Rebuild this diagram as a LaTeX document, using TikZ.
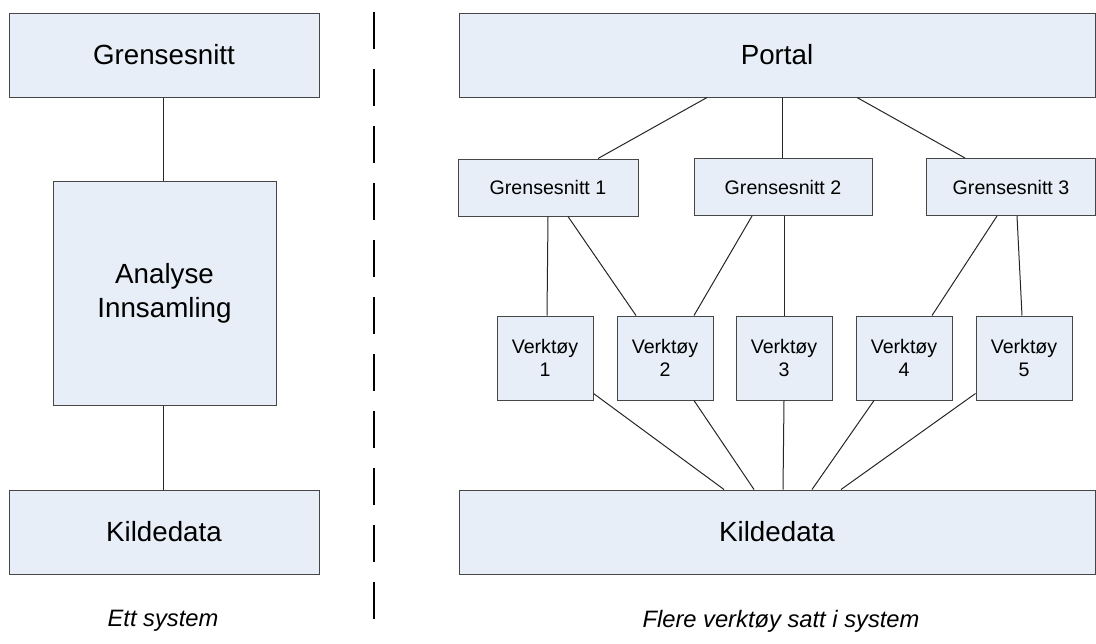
\documentclass[tikz,border=0pt]{standalone}
\usepackage{fontspec}
\setmainfont{Liberation Sans}
\usetikzlibrary{calc}
\definecolor{boxfill}{RGB}{232,238,247}
\definecolor{boxline}{RGB}{70,70,70}
\tikzset{
  box/.style={draw=boxline, fill=boxfill, line width=0.75pt, inner sep=0pt, align=center},
  bigbox/.style={box, font=\fontsize{20.8}{25.5}\selectfont},
  smallbox/.style={box, font=\fontsize{14.7}{16.8}\selectfont},
  caption/.style={font=\fontsize{17.8}{21}\selectfont\itshape, inner sep=0pt},
  conn/.style={draw=black!85, line width=0.75pt},
  divider/.style={line width=1.5pt, dash pattern=on 27.75pt off 15pt}
}
\begin{document}
\begin{tikzpicture}[x=0.75pt,y=-0.75pt]
\useasboundingbox (0,0) rectangle (1096,643);
% left column
\node[bigbox, minimum width=232.5pt, minimum height=63pt] (lg) at (164,55) {Grensesnitt};
\node[bigbox, minimum width=167.25pt, minimum height=168pt] (la) at (164.5,293) {Analyse\\Innsamling};
\node[bigbox, minimum width=232.5pt, minimum height=63pt] (lk) at (164,532) {Kildedata};
\node[caption] (lc) at (163,621) {Ett system};
\draw[conn] ($(lg.south)+(-1,0)$) -- ($(la.north)+(-1.5,0)$);
\draw[conn] ($(la.south)+(-1.5,0)$) -- ($(lk.north)+(-1,0)$);
% divider
\coordinate (dtop) at (374,12);
\coordinate (dbot) at (374,620);
\draw[divider] (dtop) -- (dbot);
% right column
\node[bigbox, minimum width=477pt, minimum height=63pt] (portal) at (777,55) {Portal};
\node[smallbox, minimum width=135pt, minimum height=42.75pt] (g1) at (548,187.5) {Grensesnitt 1};
\node[smallbox, minimum width=133.5pt, minimum height=42.75pt] (g2) at (783,187) {Grensesnitt 2};
\node[smallbox, minimum width=126.75pt, minimum height=42.75pt] (g3) at (1011,187) {Grensesnitt 3};
\foreach \i/\cx in {1/545,2/665,3/784,4/904,5/1024}{
  \node[smallbox, minimum width=72pt, minimum height=63pt] (v\i) at (\cx,358) {Verktøy\\\i};
}
\node[bigbox, minimum width=477pt, minimum height=63pt] (rk) at (777,532) {Kildedata};
\node[caption] (rc) at (781,621) {Flere verktøy satt i system};
% portal to interfaces
\draw[conn] ($(portal.south)+(-70,0)$) -- ($(g1.north)+(50,0)$);
\draw[conn] ($(portal.south)+(5,0)$) -- ($(g2.north)+(-1,0)$);
\draw[conn] ($(portal.south)+(80,0)$) -- ($(g3.north)+(-46,0)$);
% interfaces to tools
\draw[conn] (g1.south) -- ($(v1.north)+(2,0)$);
\draw[conn] ($(g1.south)+(20,0)$) -- ($(v2.north)+(-29,0)$);
\draw[conn] ($(g2.south)+(-31,0)$) -- ($(v2.north)+(29,0)$);
\draw[conn] ($(g2.south)+(1,0)$) -- ($(v3.north)+(0,0)$);
\draw[conn] ($(g3.south)+(-14,0)$) -- ($(v4.north)+(28,0)$);
\draw[conn] ($(g3.south)+(6,0)$) -- ($(v5.north)+(-2,0)$);
% tools to source data
\draw[conn] ($(v1.south east)+(0,-7)$) -- ($(rk.north)+(-53,0)$);
\draw[conn] ($(v2.south)+(29,0)$) -- ($(rk.north)+(-23,0)$);
\draw[conn] (v3.south) -- ($(rk.north)+(6,0)$);
\draw[conn] ($(v4.south)+(-30,0)$) -- ($(rk.north)+(35,0)$);
\draw[conn] ($(v5.south west)+(0,-7)$) -- ($(rk.north)+(64,0)$);
\end{tikzpicture}
\end{document}
